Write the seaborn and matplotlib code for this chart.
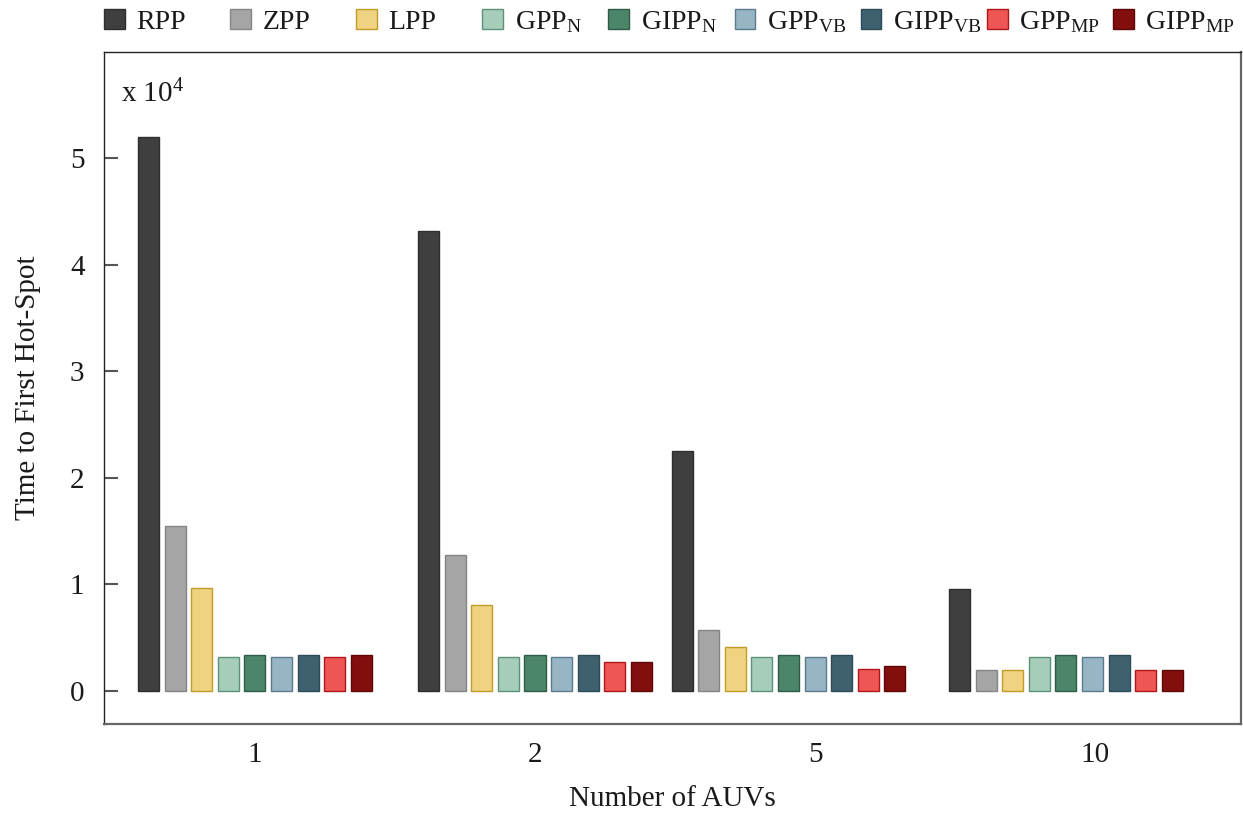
import matplotlib
matplotlib.use("Agg")
import matplotlib.pyplot as plt
from matplotlib.patches import Patch
import pandas as pd
import seaborn as sns

# Number of AUVs (x categories)
auv_counts = ["1", "2", "5", "10"]

# Planner names and their drawn legend labels
methods = ["RPP", "ZPP", "LPP", "GPP_N", "GIPP_N", "GPP_VB", "GIPP_VB", "GPP_MP", "GIPP_MP"]
legend_labels = [
    "RPP", "ZPP", "LPP",
    r"GPP$_\mathregular{N}$", r"GIPP$_\mathregular{N}$",
    r"GPP$_\mathregular{VB}$", r"GIPP$_\mathregular{VB}$",
    r"GPP$_\mathregular{MP}$", r"GIPP$_\mathregular{MP}$",
]

# Time to first hot-spot, in units of 10^4
rpp = [5.20, 4.32, 2.25, 0.955]
zpp = [1.55, 1.28, 0.57, 0.20]
lpp = [0.97, 0.81, 0.41, 0.20]
gpp_n = [0.32, 0.32, 0.32, 0.32]
gipp_n = [0.34, 0.34, 0.34, 0.34]
gpp_vb = [0.32, 0.32, 0.32, 0.32]
gipp_vb = [0.34, 0.34, 0.34, 0.34]
gpp_mp = [0.32, 0.27, 0.21, 0.20]
gipp_mp = [0.34, 0.27, 0.23, 0.20]

y_ticks = [0, 1, 2, 3, 4, 5]

fill_colors = ["#3f3f3f", "#a5a5a5", "#efd380", "#a5cdb9", "#4b856a",
               "#96b5c5", "#3f616f", "#ee5656", "#830e0e"]
edge_colors = ["#2e2e2e", "#858585", "#bf9b27", "#5f9079", "#2e5c47",
               "#5b7a8b", "#2c4a57", "#b0161a", "#5e0808"]

# horizontal offset of each bar group relative to its category tick
group_shift = [0.0, 0.0, -0.095, -0.104]

series = [rpp, zpp, lpp, gpp_n, gipp_n, gpp_vb, gipp_vb, gpp_mp, gipp_mp]
rows = []
for name, vals in zip(methods, series):
    for auv, v in zip(auv_counts, vals):
        rows.append({"auv": auv, "method": name, "time": v})
df = pd.DataFrame(rows)

sns.set_theme(style="white")
plt.rcParams["font.family"] = ["Liberation Serif", "DejaVu Serif"]
plt.rcParams["mathtext.fontset"] = "custom"
plt.rcParams["mathtext.rm"] = "Liberation Serif"
plt.rcParams["mathtext.it"] = "Liberation Serif:italic"

W, H = 1243, 815
fig = plt.figure(figsize=(W / 100, H / 100), dpi=100)
ax = fig.add_axes([104 / W, (H - 724) / H, 1137 / W, 672 / H])

sns.barplot(data=df, x="auv", y="time", hue="method",
            order=auv_counts, hue_order=methods, palette=fill_colors,
            saturation=1, width=0.855, gap=0.21, errorbar=None,
            linewidth=1.0, legend=False, ax=ax)

for container, ec in zip(ax.containers, edge_colors):
    for i, bar in enumerate(container):
        bar.set_edgecolor(ec)
        bar.set_x(bar.get_x() + group_shift[i])

ax.set_xlim(-0.539, 3.521)
ax.set_ylim(-0.31, 6.0)
ax.set_yticks(y_ticks)
ax.set_yticklabels([str(t) for t in y_ticks])
ax.tick_params(axis="y", direction="in", length=10, width=1.5, color="#555555",
               pad=14, labelsize=21, labelcolor="#1a1a1a", left=True)
ax.tick_params(axis="x", length=0, pad=13, labelsize=21, labelcolor="#1a1a1a")

for side in ["top", "left"]:
    ax.spines[side].set_color("#222222")
    ax.spines[side].set_linewidth(1.0)
for side in ["bottom", "right"]:
    ax.spines[side].set_color("#666666")
    ax.spines[side].set_linewidth(1.6)

ax.set_xlabel("Number of AUVs", fontsize=21, color="#1a1a1a")
ax.set_ylabel("Time to First Hot-Spot", fontsize=21, color="#1a1a1a")
ax.xaxis.set_label_coords(0.5, -0.092)
ax.yaxis.set_label_coords(-0.055, 0.5)

ax.text(17 / 1137, (724 - 102) / 672, r"x 10$^\mathregular{4}$", transform=ax.transAxes,
        fontsize=21, color="#1a1a1a", ha="left", va="baseline")

# legend row across the top, one entry per fixed-width slot
slot_left, slot_step = 104, 126.1
for k, (lab, fc, ec) in enumerate(zip(legend_labels, fill_colors, edge_colors)):
    h = Patch(facecolor=fc, edgecolor=ec, linewidth=1.0)
    fig.legend(handles=[h], labels=[lab], loc="center left",
               bbox_to_anchor=((slot_left + slot_step * k) / W, 1 - 22 / H),
               frameon=False, fontsize=20, handlelength=0.75, handleheight=0.75,
               handletextpad=0.42, borderpad=0, borderaxespad=0,
               labelcolor="#1a1a1a")

fig.savefig("out.png", dpi=100)
